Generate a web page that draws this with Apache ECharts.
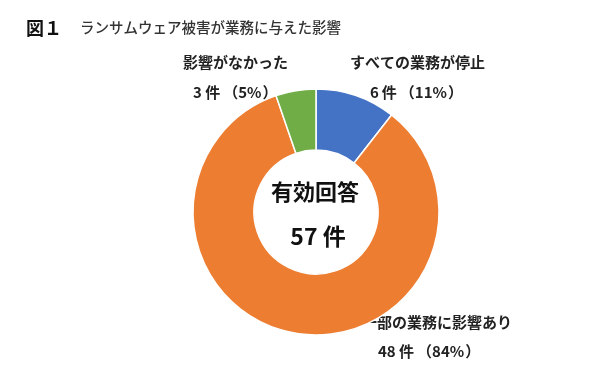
<!DOCTYPE html>
<html><head><meta charset="utf-8">
<script src="https://cdn.jsdelivr.net/npm/echarts@6/dist/echarts.min.js"></script>
<style>html,body{margin:0;padding:0;background:#fff}#c{width:600px;height:379px}</style>
</head><body><div id="c"></div>
<script>
const categories = ['すべての業務が停止', '一部の業務に影響あり', '影響がなかった'];
const counts = [6, 48, 3];
const percents = [11, 84, 5];
const colors = ['#4472C4', '#ED7D31', '#70AD47'];
const totalLabel = '有効回答';
const total = 57;

const FONT = '"Noto Sans CJK JP", sans-serif';
const chart = echarts.init(document.getElementById('c'));

const labelPos = [
  {x1: 350, x2: 370, y1: 62, y2: 92, sp: '\u2009'},
  {x1: 362, x2: 378, y1: 322, y2: 351, sp: ' '},
  {x1: 183, x2: 193, y1: 62, y2: 92, sp: ' '}
];
const g = [
  {type: 'text', left: 26, top: 19, style: {text: '図１', font: 'bold 18px ' + FONT, fill: '#111'}},
  {type: 'text', left: 80, top: 20, style: {text: 'ランサムウェア被害が業務に与えた影響', font: '500 14.5px ' + FONT, fill: '#333'}},
  {type: 'text', x: 315, y: 192, style: {text: totalLabel, font: 'bold 22px ' + FONT, fill: '#111', textAlign: 'center', textVerticalAlign: 'middle'}},
  {type: 'text', x: 318, y: 236, style: {text: total + ' 件', font: 'bold 23px ' + FONT, fill: '#111', textAlign: 'center', textVerticalAlign: 'middle'}}
];
categories.forEach((c, i) => {
  const p = labelPos[i];
  g.push({type: 'text', x: p.x1, y: p.y1, style: {text: c, font: 'bold 15px ' + FONT, fill: '#222', textVerticalAlign: 'middle'}});
  g.push({type: 'text', x: p.x2, y: p.y2, style: {text: counts[i] + p.sp + '件\u2009（' + percents[i] + '%\u200a）', font: 'bold 15px ' + FONT, fill: '#222', textVerticalAlign: 'middle'}});
});

chart.setOption({
  animation: false,
  series: [{
    type: 'pie',
    center: [316, 212],
    radius: [62, 123],
    startAngle: 90,
    clockwise: true,
    label: {show: false},
    labelLine: {show: false},
    itemStyle: {borderColor: '#fff', borderWidth: 1.5},
    data: categories.map((c, i) => ({name: c, value: counts[i], itemStyle: {color: colors[i]}}))
  }],
  graphic: g
});
</script></body></html>
